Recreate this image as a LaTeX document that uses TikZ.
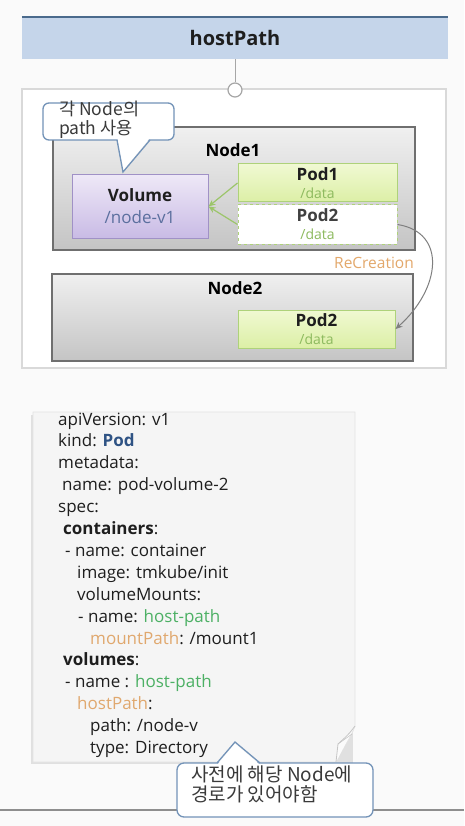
\documentclass[tikz,border=0pt]{standalone}
\usepackage{fontspec}
\setmainfont{Open Sans}
\newfontfamily\kr{Noto Sans CJK KR}
\usetikzlibrary{arrows.meta,calc}
\definecolor{bgc}{HTML}{FAFAFA}
\definecolor{titlefill}{HTML}{C5D5EA}
\definecolor{titletop}{HTML}{4A6A8C}
\definecolor{framec}{HTML}{D9D9D9}
\definecolor{connc}{HTML}{A6A6A6}
\definecolor{nodeborder}{HTML}{6F6F6F}
\definecolor{nodetop}{HTML}{F0F0F0}
\definecolor{nodebot}{HTML}{C4C4C4}
\definecolor{voltop}{HTML}{EEE8F7}
\definecolor{volbot}{HTML}{C9BBE5}
\definecolor{volborder}{HTML}{A091C6}
\definecolor{volblue}{HTML}{5B6F9E}
\definecolor{podtop}{HTML}{F0F9D2}
\definecolor{podbot}{HTML}{DCEFA6}
\definecolor{podborder}{HTML}{AED27A}
\definecolor{datagreen}{HTML}{8DBA5E}
\definecolor{arrowgreen}{HTML}{9CC56A}
\definecolor{recorange}{HTML}{E3A86B}
\definecolor{recgray}{HTML}{7F7F7F}
\definecolor{callborder}{HTML}{7393B8}
\definecolor{textc}{HTML}{1E1E1E}
\definecolor{calltext}{HTML}{3A3A3A}
\definecolor{yamlfill}{HTML}{F5F5F5}
\definecolor{yamlborder}{HTML}{E3E3E3}
\definecolor{kindblue}{HTML}{2F5384}
\definecolor{hostgreen}{HTML}{4CB064}
\definecolor{keyorange}{HTML}{E0A86E}
\definecolor{linegray}{HTML}{8E8E8E}
\tikzset{
  titlebar/.style={fill=titlefill, inner sep=0, text=textc, font=\fontsize{20}{24}\selectfont\bfseries},
  framebox/.style={draw=framec, line width=2.5pt, fill=white, inner sep=0},
  conncircle/.style={circle, draw=connc, line width=1.2pt, fill=white, minimum size=14pt, inner sep=0},
  connline/.style={draw=connc, line width=1pt},
  nodebox/.style={draw=nodeborder, line width=1.2pt, top color=nodetop, bottom color=nodebot, inner sep=0},
  nodelbl/.style={inner sep=0, text=black, font=\fontsize{17}{20}\selectfont\bfseries},
  volbox/.style={draw=volborder, line width=1pt, top color=voltop, bottom color=volbot, inner sep=0, align=center, text=textc, font=\fontsize{17}{22}\selectfont\bfseries},
  podbox/.style={draw=podborder, line width=1pt, top color=podtop, bottom color=podbot, inner sep=0, align=center, text=textc, font=\fontsize{17}{19}\selectfont\bfseries},
  podghost/.style={draw=podborder, line width=1pt, dashed, fill=white, inner sep=0, align=center, text=black!75, font=\fontsize{17}{19}\selectfont\bfseries},
  podarrow/.style={draw=arrowgreen, line width=1.2pt, -{Stealth[length=7pt,width=6pt]}},
  recarrow/.style={draw=recgray, line width=1pt, -{Stealth[length=7pt,width=6pt]}},
  reclbl/.style={inner sep=0, text=recorange, font=\fontsize{15.5}{18}\selectfont},
  callshape/.style={draw=callborder, line width=1.3pt, fill=white},
  callline/.style={draw=callborder, line width=1.3pt, line join=miter},
  calltxt/.style={inner sep=0, anchor=north west, align=left, text=calltext},
  yamlbox/.style={draw=yamlborder, line width=0.8pt, fill=yamlfill},
  yt/.style={anchor=base west, inner sep=0, text=textc, font=\fontsize{17}{19}\selectfont},
}
\newcommand{\dtxt}[1]{\\[-1pt]{\fontsize{14}{16}\selectfont\mdseries\color{datagreen}#1}}
\begin{document}
\begin{tikzpicture}[x=1pt,y=-1pt]
\useasboundingbox (0,0) rectangle (464,826);
\fill[bgc] (0,0) rectangle (464,826);
% title
\node[titlebar, minimum width=426pt, minimum height=42pt] (title) at (235,38) {hostPath};
\draw[titletop, line width=2pt] (title.north west) -- (title.north east);
% frame
\node[framebox, minimum width=424pt, minimum height=279pt] (frame) at (234,228.5) {};
\node[conncircle] (conn) at (235,90) {};
\draw[connline] (title.south) -- (conn.north);
% Node1
\node[nodebox, minimum width=362pt, minimum height=123pt] (node1) at (234,188.5) {};
\node[nodelbl] (n1lbl) at (233,150) {Node1};
\node[volbox, minimum width=136pt, minimum height=63pt] (vol) at (140,206.5) {Volume\\{\mdseries\color{volblue}/node-v1}};
\node[podbox, minimum width=159pt, minimum height=38pt] (pod1) at (317.5,183) {Pod1\dtxt{/data}};
\node[podghost, minimum width=159pt, minimum height=39pt] (pod2a) at (317.5,224.5) {Pod2\dtxt{/data}};
\draw[podarrow] (pod1.west) -- (vol.east);
\draw[podarrow] (pod2a.west) -- (vol.east);
% Node2
\node[nodebox, minimum width=361pt, minimum height=87pt] (node2) at (232.5,317.5) {};
\node[nodelbl] (n2lbl) at (235,288) {Node2};
\node[podbox, minimum width=157pt, minimum height=38pt] (pod2b) at (316.5,329) {Pod2\dtxt{/data}};
% recreation
\draw[recarrow] (pod2a.east) .. controls +(50,8) and +(45,-40) .. (pod2b.east);
\node[reclbl] (rec) at (374,263) {ReCreation};
% callout 1
\draw[callshape, rounded corners=6pt] (43,103) rectangle (174,140);
\fill[white] (117.5,138.5) -- (123,171) -- (149.5,138.5) -- cycle;
\draw[callline] (117,140) -- (123,172) -- (150,140);
\node[calltxt, font=\kr\fontsize{17.5}{19}\selectfont] (c1) at (59,101) {각 Node의\\path 사용};
% yaml box
\fill[black!12] (31,415) -- (353,415) -- (353,764) -- (31,764) -- cycle;
\draw[yamlbox] (33,412) -- (355,412) -- (355,726) .. controls (350,740) and (342,748) .. (336,762) -- (33,762) -- cycle;
\draw[yamlborder!70!gray, line width=0.8pt, fill=white!60!yamlfill] (355,726) .. controls (348,736) and (342,740) .. (338,744) -- (336,762);
\draw[yamlborder!70!gray, line width=0.6pt] (338,744) -- (352,734);
\node[yt] (y1) at (58,425) {apiVersion: v1};
\node[yt] (y2) at (58,446.9) {kind: {\bfseries\color{kindblue}Pod}};
\node[yt] (y3) at (58,468.8) {metadata:};
\node[yt] (y4) at (62,490.7) {name: pod-volume-2};
\node[yt] (y5) at (58,512.6) {spec:};
\node[yt] (y6) at (63,534.5) {\bfseries containers\mdseries:};
\node[yt] (y7) at (65,556.4) {- name: container};
\node[yt] (y8) at (77,578.3) {image: tmkube/init};
\node[yt] (y9) at (77,600.2) {volumeMounts:};
\node[yt] (y10) at (78,622.1) {- name: {\color{hostgreen}host-path}};
\node[yt] (y11) at (90,644) {{\color{keyorange}mountPath}: /mount1};
\node[yt] (y12) at (63,665.9) {\bfseries volumes\mdseries:};
\node[yt] (y13) at (65,687.8) {- name : {\color{hostgreen}host-path}};
\node[yt] (y14) at (77,709.7) {{\color{keyorange}hostPath}:};
\node[yt] (y15) at (90,731.6) {path: /node-v};
\node[yt] (y16) at (90,753.5) {type: Directory};
% bottom line
\draw[linegray, line width=1.5pt] (0,810) -- (464,810);
% callout 2
\draw[callshape, rounded corners=7pt] (177,763) rectangle (373,817);
\fill[white] (217.5,764.5) -- (235,743.5) -- (259.5,764.5) -- cycle;
\draw[callline] (217,763) -- (235,742) -- (260,763);
\node[calltxt, font=\kr\fontsize{19}{20}\selectfont] (c2) at (191,766) {사전에 해당 Node에\\경로가 있어야함};
\end{tikzpicture}
\end{document}
